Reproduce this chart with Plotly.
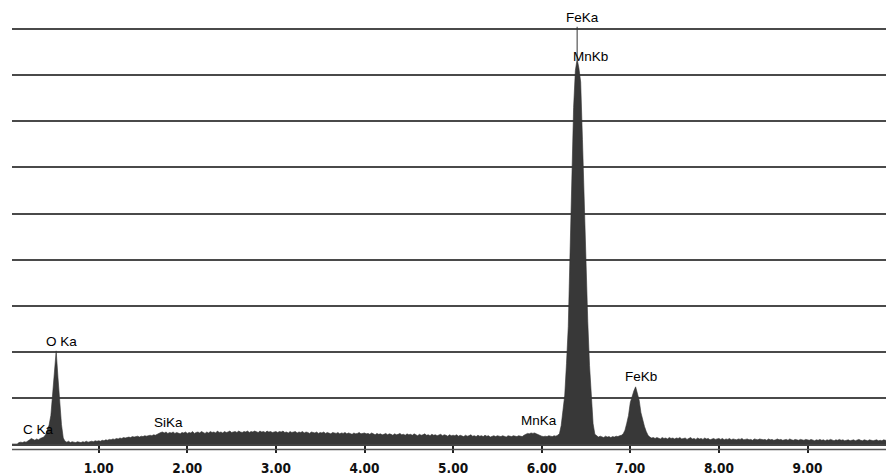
import numpy as np
import plotly.graph_objects as go

# ---- data: EDS spectrum, channels every 0.02 keV starting at 0.02 keV ----
CHANNEL_STEP_KEV = 0.02
counts_0_1 = [0, 0, 0, 0, 0.03, 0.04, 0.03, 0.05, 0.04, 0.06, 0.09, 0.12, 0.10, 0.08, 0.11, 0.09, 0.12, 0.13, 0.15, 0.20, 0.29, 0.41, 0.62, 1.12, 1.62,
              2.02, 1.45, 0.86, 0.42, 0.13, 0.06, 0.04, 0.06, 0.03, 0.05, 0.04, 0.03, 0.05, 0.04, 0.03, 0.05, 0.04, 0.06, 0.04, 0.05, 0.06, 0.05, 0.07, 0.06, 0.07]
counts_1_2 = [0.06, 0.08, 0.07, 0.09, 0.08, 0.10, 0.09, 0.11, 0.10, 0.12, 0.11, 0.13, 0.12, 0.14, 0.13, 0.14, 0.15, 0.14, 0.16, 0.15, 0.16, 0.17, 0.15, 0.17, 0.16,
              0.18, 0.17, 0.18, 0.19, 0.18, 0.20, 0.19, 0.21, 0.24, 0.25, 0.26, 0.24, 0.26, 0.23, 0.25, 0.24, 0.26, 0.23, 0.25, 0.24, 0.22, 0.25, 0.24, 0.26, 0.23]
counts_2_3 = [0.25, 0.24, 0.27, 0.23, 0.25, 0.26, 0.24, 0.27, 0.25, 0.23, 0.26, 0.24, 0.27, 0.25, 0.26, 0.24, 0.28, 0.25, 0.26, 0.24, 0.27, 0.25, 0.26, 0.28, 0.25,
              0.26, 0.27, 0.25, 0.28, 0.26, 0.25, 0.27, 0.26, 0.28, 0.25, 0.27, 0.26, 0.28, 0.27, 0.25, 0.28, 0.26, 0.27, 0.25, 0.28, 0.26, 0.27, 0.25, 0.26, 0.27]
counts_3_4 = [0.25, 0.27, 0.26, 0.28, 0.25, 0.26, 0.24, 0.27, 0.25, 0.26, 0.27, 0.24, 0.26, 0.25, 0.27, 0.24, 0.26, 0.25, 0.23, 0.26, 0.25, 0.24, 0.26, 0.23, 0.25,
              0.24, 0.26, 0.23, 0.25, 0.24, 0.22, 0.25, 0.24, 0.23, 0.25, 0.22, 0.24, 0.23, 0.25, 0.22, 0.24, 0.23, 0.21, 0.24, 0.22, 0.23, 0.25, 0.22, 0.23, 0.24]
counts_4_5 = [0.22, 0.23, 0.21, 0.24, 0.22, 0.20, 0.23, 0.21, 0.22, 0.20, 0.21, 0.23, 0.20, 0.22, 0.21, 0.19, 0.22, 0.20, 0.21, 0.23, 0.20, 0.21, 0.19, 0.22, 0.20,
              0.21, 0.19, 0.22, 0.20, 0.18, 0.21, 0.19, 0.20, 0.22, 0.19, 0.20, 0.18, 0.21, 0.19, 0.20, 0.18, 0.19, 0.21, 0.18, 0.20, 0.19, 0.17, 0.20, 0.18, 0.19]
counts_5_6 = [0.18, 0.20, 0.17, 0.19, 0.18, 0.16, 0.19, 0.17, 0.18, 0.20, 0.17, 0.18, 0.16, 0.19, 0.17, 0.18, 0.16, 0.19, 0.17, 0.18, 0.15, 0.17, 0.18, 0.16, 0.18,
              0.17, 0.16, 0.18, 0.17, 0.15, 0.18, 0.17, 0.16, 0.18, 0.17, 0.16, 0.18, 0.17, 0.16, 0.19, 0.21, 0.23, 0.22, 0.24, 0.23, 0.24, 0.22, 0.20, 0.18, 0.17]
counts_6_7 = [0.16, 0.17, 0.16, 0.18, 0.17, 0.16, 0.18, 0.17, 0.19, 0.22, 0.40, 0.70, 1.06, 1.75, 2.55, 4.15, 5.65, 7.30, 8.10, 8.35, 8.15, 7.85, 6.60, 5.25, 3.70,
              2.65, 1.70, 1.05, 0.44, 0.21, 0.17, 0.15, 0.17, 0.16, 0.14, 0.17, 0.15, 0.16, 0.14, 0.16, 0.15, 0.17, 0.16, 0.18, 0.19, 0.22, 0.30, 0.45, 0.62, 0.90]
counts_7_8 = [1.05, 1.15, 1.24, 1.10, 0.95, 0.68, 0.52, 0.38, 0.27, 0.19, 0.15, 0.13, 0.14, 0.12, 0.14, 0.13, 0.11, 0.14, 0.12, 0.13, 0.11, 0.14, 0.12, 0.13, 0.11,
              0.13, 0.12, 0.14, 0.11, 0.12, 0.13, 0.10, 0.12, 0.14, 0.11, 0.12, 0.10, 0.13, 0.11, 0.12, 0.10, 0.13, 0.11, 0.12, 0.09, 0.11, 0.12, 0.10, 0.11, 0.12]
counts_8_9 = [0.10, 0.12, 0.09, 0.11, 0.10, 0.12, 0.09, 0.11, 0.10, 0.09, 0.11, 0.10, 0.12, 0.09, 0.10, 0.11, 0.09, 0.10, 0.08, 0.11, 0.10, 0.09, 0.11, 0.10, 0.09,
              0.10, 0.08, 0.11, 0.09, 0.10, 0.08, 0.09, 0.11, 0.09, 0.10, 0.08, 0.09, 0.10, 0.08, 0.11, 0.09, 0.08, 0.10, 0.09, 0.08, 0.10, 0.09, 0.08, 0.10, 0.09]
counts_9_10 = [0.08, 0.10, 0.09, 0.07, 0.09, 0.08, 0.10, 0.08, 0.09, 0.07, 0.09, 0.08, 0.10, 0.08, 0.07, 0.09, 0.08, 0.10, 0.08, 0.09, 0.07, 0.08, 0.09, 0.07, 0.08,
               0.09, 0.07, 0.08, 0.10, 0.08, 0.07, 0.09, 0.08, 0.07, 0.09, 0.08, 0.07, 0.08, 0.09, 0.07, 0.08, 0.07, 0.09, 0.08, 0.07, 0.08, 0.09, 0.07, 0.08, 0.07]

# FeKa peak marker line (thin line from the peak top up to the label)
fe_ka_marker_energy = 6.40
fe_ka_marker_top = 9.05

peak_labels = ["C Ka", "O Ka", "SiKa", "MnKa", "FeKa", "MnKb", "FeKb"]
peak_label_energy = [0.32, 0.575, 1.79, 5.97, 6.455, 6.555, 7.125]
peak_label_height = [0.31, 2.23, 0.46, 0.505, 9.26, 8.40, 1.475]

tick_values = [1, 2, 3, 4, 5, 6, 7, 8, 9]
tick_labels = ["1.00", "2.00", "3.00", "4.00", "5.00", "6.00", "7.00", "8.00", "9.00"]

counts = (counts_0_1 + counts_1_2 + counts_2_3 + counts_3_4 + counts_4_5 +
          counts_5_6 + counts_6_7 + counts_7_8 + counts_8_9 + counts_9_10)
energy = np.round(CHANNEL_STEP_KEV * np.arange(1, len(counts) + 1), 2)
marker_base = counts[int(round(fe_ka_marker_energy / CHANNEL_STEP_KEV)) - 1]

# page has an 8px body margin: compensate so that the chart lands on the 894x475 window
OFF = 8
W, H = 894 - OFF, 475 - OFF
ML, MR, MT, MB = 12 - OFF, 0, 0, 31
PX_PER_KEV = 88.6
PX_PER_UNIT = 46.1
x0 = 10.1 - OFF  # figure pixel of 0 keV
xr = [(ML - x0) / PX_PER_KEV, (W - MR - x0) / PX_PER_KEV]
plot_h = H - MB - MT
yr = [0, plot_h / PX_PER_UNIT]

fig = go.Figure()
fig.add_trace(go.Scatter(
    x=energy, y=counts, mode="lines",
    line=dict(color="#333333", width=0.6),
    fill="tozeroy", fillcolor="#383838",
    hoverinfo="skip", showlegend=False, cliponaxis=False,
))
fig.add_trace(go.Scatter(
    x=[fe_ka_marker_energy, fe_ka_marker_energy], y=[marker_base, fe_ka_marker_top],
    mode="lines", line=dict(color="#333333", width=1),
    hoverinfo="skip", showlegend=False, cliponaxis=False,
))

for txt, e, h in zip(peak_labels, peak_label_energy, peak_label_height):
    fig.add_annotation(x=e, y=h, xref="x", yref="y", text=txt, showarrow=False,
                       font=dict(family="Liberation Sans, Arial, sans-serif", size=13.5, color="#000"),
                       xanchor="center", yanchor="middle")

# second (lower) line of the double axis rule
fig.add_shape(type="line", xref="paper", yref="paper", x0=0, x1=1,
              y0=-5.5 / plot_h, y1=-5.5 / plot_h,
              line=dict(color="#555", width=1.5), layer="above")

fig.update_layout(
    width=W, height=H,
    margin=dict(l=ML, r=MR, t=MT, b=MB, pad=0),
    paper_bgcolor="white", plot_bgcolor="white",
    showlegend=False,
)
fig.update_xaxes(
    range=xr, showgrid=False, zeroline=False,
    showline=True, linecolor="#444", linewidth=1.5,
    ticks="outside", ticklen=7, tickwidth=1.5, tickcolor="#222",
    tickvals=tick_values, ticktext=tick_labels,
    tickfont=dict(family="DejaVu Sans Condensed, Liberation Sans Narrow, sans-serif",
                  size=13.5, color="#111", weight="bold"),
    ticklabelstandoff=4,
)
fig.update_yaxes(
    range=yr, dtick=1, tick0=0, showgrid=True, gridcolor="#4a4a4a", gridwidth=1.5,
    zeroline=False, showticklabels=False, ticks="", showline=False,
)

fig.write_html("out.html")
